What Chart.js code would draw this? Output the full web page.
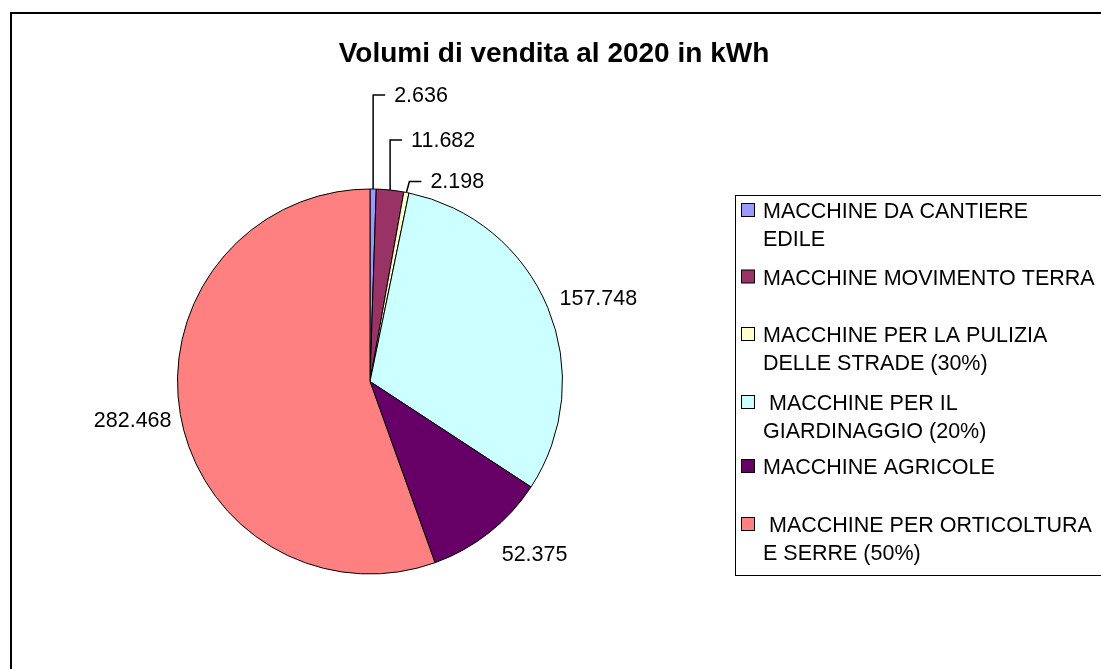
<!DOCTYPE html>
<html lang="it">
<head>
  <meta charset="utf-8">
  <title>Volumi di vendita al 2020 in kWh</title>
  <script src="https://cdn.jsdelivr.net/npm/chart.js@4/dist/chart.umd.min.js"></script>
  <style>
    html, body { margin: 0; padding: 0; background: #fff; }
    .wrapper { position: relative; width: 1101px; height: 669px; }
  </style>
</head>
<body>
  <div class="wrapper">
    <canvas id="chart-0" width="1101" height="669"></canvas>
  </div>

  <script>
    let categories = [
      'MACCHINE DA CANTIERE\nEDILE',
      'MACCHINE MOVIMENTO TERRA',
      'MACCHINE PER LA PULIZIA\nDELLE STRADE (30%)',
      ' MACCHINE PER IL\nGIARDINAGGIO (20%)',
      'MACCHINE AGRICOLE',
      ' MACCHINE PER ORTICOLTURA\nE SERRE (50%)'
    ];
    let values = [2636, 11682, 2198, 157748, 52375, 282468];
    let valueLabels = ['2.636', '11.682', '2.198', '157.748', '52.375', '282.468'];
    let colors = ['#9999FF', '#993366', '#FFFFCC', '#CCFFFF', '#660066', '#FF8080'];

    // label layout: leader rise for small slices, distance/turn for the others
    let leaderLift = [94, 50, 11, 0, 0, 0];
    let labelDist = [0, 0, 0, 1.262, 1.243, 1.25];
    let labelTurn = [0, 0, 0, 2.6, -5.2, 0.4];
    let legendY = [211.5, 278, 335.5, 403.5, 467.5, 525.5];

    let FONT = '"Liberation Sans", Arial, sans-serif';

    let decorations = {
      id: 'decorations',
      afterDraw(chart) {
        let ctx = chart.ctx;
        ctx.save();

        // outer frame
        ctx.strokeStyle = '#000';
        ctx.lineWidth = 2;
        ctx.strokeRect(11, 13, 1200, 800);

        // title
        ctx.fillStyle = '#000';
        ctx.font = 'bold 28px ' + FONT;
        ctx.textAlign = 'center';
        ctx.textBaseline = 'middle';
        ctx.fillText('Volumi di vendita al 2020 in kWh', 554, 54);

        // value labels
        let meta = chart.getDatasetMeta(0);
        ctx.font = '21.5px ' + FONT;
        ctx.lineWidth = 1.5;
        meta.data.forEach(function(arc, i) {
          let p = arc.getProps(['x', 'y', 'startAngle', 'endAngle', 'outerRadius'], true);
          let mid = (p.startAngle + p.endAngle) / 2;
          let ex = p.x + Math.cos(mid) * p.outerRadius;
          let ey = p.y + Math.sin(mid) * p.outerRadius;
          if (leaderLift[i] > 0) {
            let topY = ey - leaderLift[i];
            let tx = ex + (i === 2 ? 3 : 0);
            ctx.beginPath();
            ctx.moveTo(ex, ey);
            ctx.lineTo(tx, topY);
            ctx.lineTo(tx + 12, topY);
            ctx.stroke();
            ctx.textAlign = 'left';
            ctx.fillText(valueLabels[i], tx + 21, topY + 1);
          } else {
            let a = mid + labelTurn[i] * Math.PI / 180;
            let d = p.outerRadius * labelDist[i];
            ctx.textAlign = 'center';
            ctx.fillText(valueLabels[i], p.x + Math.cos(a) * d, p.y + Math.sin(a) * d);
          }
        });

        // legend
        ctx.lineWidth = 1;
        ctx.strokeRect(735.5, 195.5, 500, 380);
        ctx.textAlign = 'left';
        categories.forEach(function(label, i) {
          let y = legendY[i];
          ctx.fillStyle = colors[i];
          ctx.fillRect(741.5, y - 8, 13, 13);
          ctx.strokeStyle = '#000';
          ctx.strokeRect(741.5, y - 8, 13, 13);
          ctx.fillStyle = '#000';
          label.split('\n').forEach(function(line, j) {
            ctx.fillText(line, 763, y + 1 + j * 27.5);
          });
        });

        ctx.restore();
      }
    };

    let chart = new Chart('chart-0', {
      type: 'pie',
      data: {
        labels: categories,
        datasets: [{
          data: values,
          backgroundColor: colors,
          borderColor: '#000',
          borderWidth: 1
        }]
      },
      options: {
        responsive: false,
        animation: false,
        layout: {
          padding: { left: 177, right: 538, top: 188, bottom: 94 }
        },
        plugins: {
          legend: { display: false },
          title: { display: false },
          tooltip: { enabled: false }
        }
      },
      plugins: [decorations]
    });
  </script>
</body>
</html>
